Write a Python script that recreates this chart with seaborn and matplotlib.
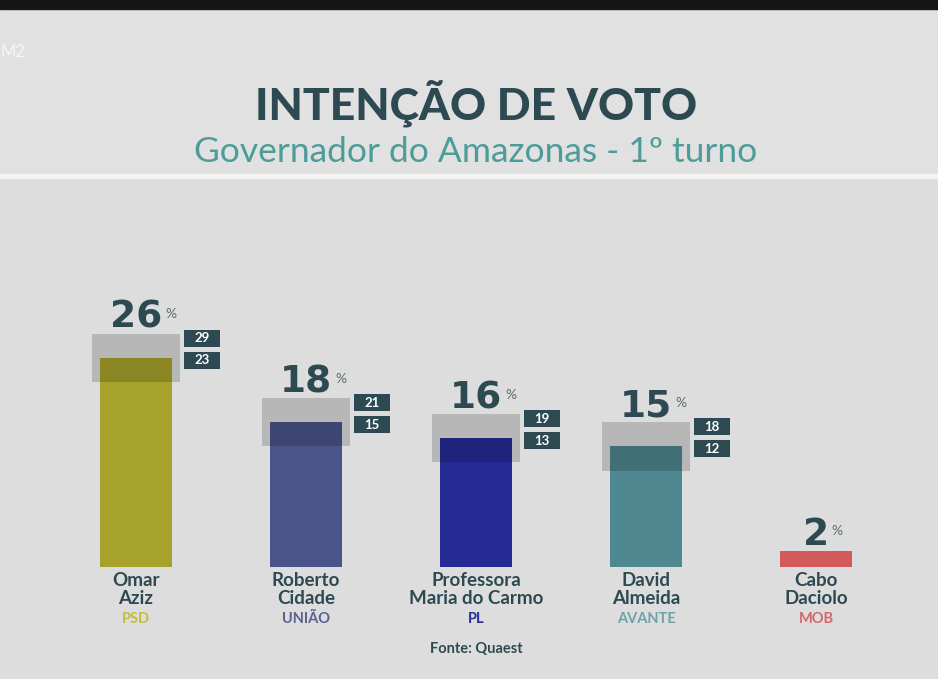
import matplotlib
matplotlib.use("Agg")
import matplotlib.pyplot as plt
import matplotlib.patches as mpatches
import seaborn as sns
import pandas as pd

# Data
candidates = ["Omar\nAziz", "Roberto\nCidade", "Professora\nMaria do Carmo", "David\nAlmeida", "Cabo\nDaciolo"]
parties = ["PSD", "UNIÃO", "PL", "AVANTE", "MOB"]
values = [26, 18, 16, 15, 2]
upper = [29, 21, 19, 18, None]
lower = [23, 15, 13, 12, None]

bar_colors = ["#a7a22b", "#4a548b", "#252b95", "#4f8890", "#d35a5a"]
party_colors = ["#c5bd3c", "#59628f", "#2b309a", "#6ba4a8", "#d26a6a"]
DARK = "#2d4a52"
TEAL = "#4c9d9a"
BG = "#dcdddc"

sns.set_theme(style="white")
plt.rcParams['font.family'] = ['Lato', 'DejaVu Sans']

fig = plt.figure(figsize=(9.38, 6.79), dpi=100)
fig.patch.set_facecolor(BG)

# header band, black strip and white separator
fig.patches.append(mpatches.Rectangle((0, 1 - 175 / 679), 1, 175 / 679, transform=fig.transFigure,
                                      color="#e0e1e0", zorder=0))
fig.patches.append(mpatches.Rectangle((0, 1 - 9 / 679), 1, 9 / 679, transform=fig.transFigure,
                                      color="#161616", zorder=1))
fig.patches.append(mpatches.Rectangle((0, 1 - 178 / 679), 1, 4 / 679, transform=fig.transFigure,
                                      color="#f4f4f4", zorder=1))

fig.text(0.0, 1 - 52 / 679, "M2", color="white", alpha=0.7, fontsize=12, va="center", ha="left")
fig.text(476 / 938, 1 - 103 / 679, "INTENÇÃO DE VOTO", color=DARK, fontsize=32, fontweight="black",
         ha="center", va="center")
fig.text(476 / 938, 1 - 152 / 679, "Governador do Amazonas - 1º turno", color=TEAL, fontsize=25.5,
         ha="center", va="center")

ax = fig.add_axes([0, 112 / 679, 1, 309 / 679])
ax.set_facecolor("none")
df = pd.DataFrame({"candidato": candidates, "valor": values})
sns.barplot(data=df, x="candidato", y="valor", hue="candidato", palette=bar_colors,
            width=0.42, saturation=1, legend=False, ax=ax, zorder=2, linewidth=0)

ax.set_xlim(-0.8, (938 - 136) / 170)
ax.set_ylim(0, 309 / 8.04)
ax.axis("off")

for i, (v, up, lo) in enumerate(zip(values, upper, lower)):
    top = v
    if up is not None:
        # margin of error box
        ax.add_patch(mpatches.Rectangle((i - 0.26, lo), 0.52, up - lo, color="black",
                                        alpha=0.17, lw=0, zorder=3))
        for k, num in enumerate([up, lo]):
            y0 = up - 1.6 - k * 2.75
            ax.add_patch(mpatches.Rectangle((i + 0.28, y0), 0.215, 2.1, color=DARK,
                                            lw=0, zorder=3))
            ax.text(i + 0.3875, y0 + 1.05, str(num), color="white", fontsize=9.5,
                    fontweight="bold", ha="center", va="center", zorder=4)
        top = up
    t = ax.text(i, top + 0.75, str(v), color=DARK, fontsize=27, fontweight="bold",
                family=["DejaVu Sans"], ha="center", va="baseline", zorder=4)
    ax.annotate("%", xy=(1, 0.6), xycoords=t, xytext=(2, 0), textcoords="offset points",
                color="#5d6f73", fontsize=10, ha="left", va="center", zorder=4)

    ax.text(i, -0.6, candidates[i], color=DARK, fontsize=13.5, fontweight="bold",
            ha="center", va="top", linespacing=1.05, clip_on=False)
    ax.text(i, -5.6, parties[i], color=party_colors[i], fontsize=10.5, fontweight="bold",
            ha="center", va="top", clip_on=False)

ax.text(2, -9.3, "Fonte: Quaest", color=DARK, fontsize=10.5, fontweight="bold",
        ha="center", va="top", clip_on=False)

fig.savefig("out.png", dpi=100, facecolor=fig.get_facecolor())
